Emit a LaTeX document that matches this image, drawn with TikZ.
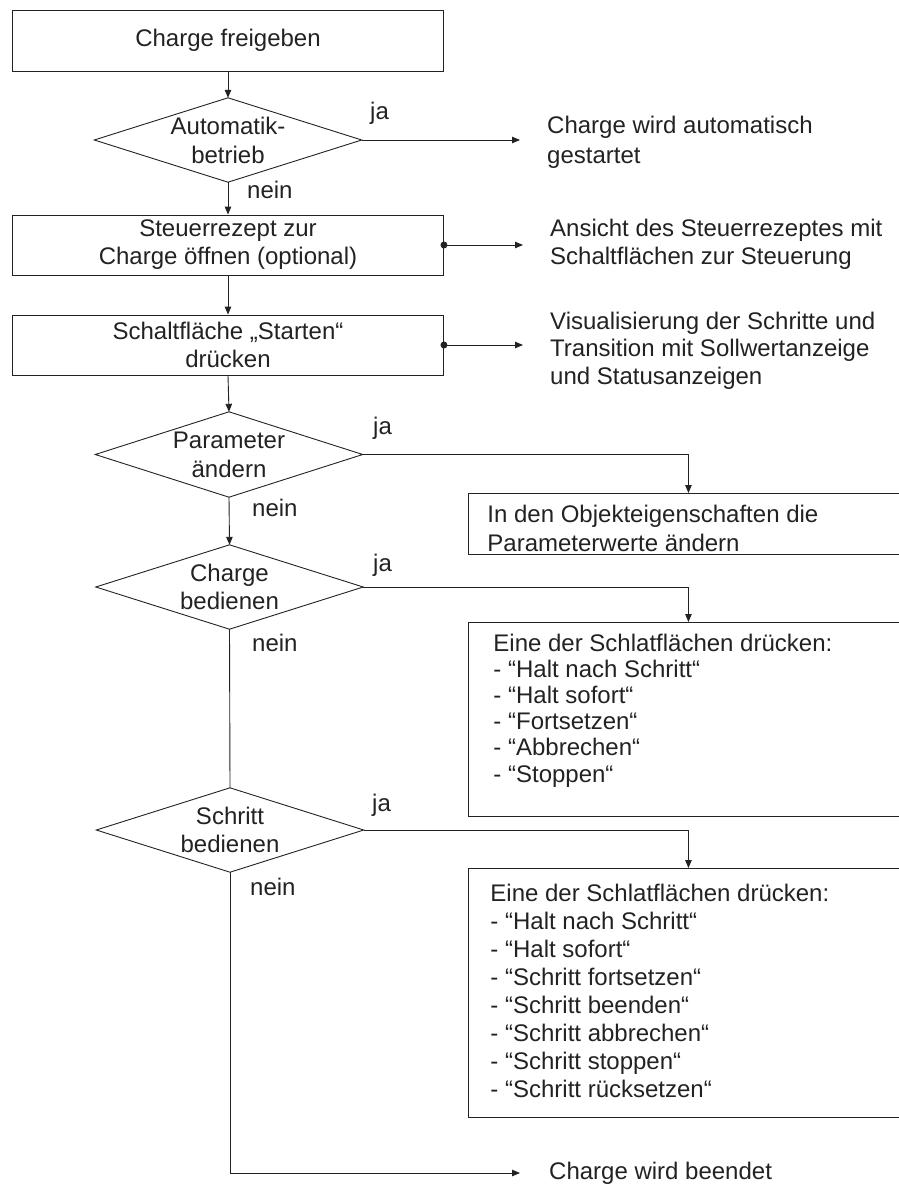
\documentclass[tikz,border=0pt]{standalone}
\usepackage{fontspec}
\setmainfont{Liberation Sans}
\usetikzlibrary{arrows.meta}
\definecolor{ink}{HTML}{222222}
\newcommand\flowfont[1]{\fontsize{24}{#1}\selectfont}
\begin{document}
\begin{tikzpicture}[x=1pt,y=-1pt,
  every node/.style={text=ink},
  proc/.style={draw=ink, line width=0.9pt, minimum width=431pt, minimum height=60pt,
    align=center, inner sep=0pt, font=\flowfont{28}},
  decision/.style={minimum width=267pt, minimum height=84pt, inner sep=0pt,
    align=center, font=\flowfont{29}},
  note/.style={anchor=west, align=left, inner xsep=27pt, inner ysep=0pt},
  listbox/.style={draw=ink, line width=0.9pt, anchor=north west, minimum width=440pt,
    inner ysep=0pt, align=left},
  yn/.style={anchor=west, inner sep=0pt, font=\flowfont{28}},
  flow/.style={draw=ink, line width=0.9pt, -{Triangle[length=8pt,width=6.5pt]}},
  wire/.style={draw=ink, line width=0.9pt},
  dot/.style={fill=ink}]
\useasboundingbox (0,0) rectangle (898,1185);

% main column
\node[proc, minimum height=61pt] (b1) at (228,40.5) {Charge freigeben};
\node[decision] (d1) at (228,140) {Automatik-\\betrieb};
\node[proc] (b2) at (228,245) {Steuerrezept zur\\Charge öffnen (optional)};
\node[proc] (b3) at (228,345) {Schaltfläche „Starten“\\drücken};
\node[decision, minimum height=85pt] (d2) at (229,454.5) {Parameter\\ändern};
\node[decision, font=\flowfont{28}] (d3) at (229.5,587) {Charge\\bedienen};
\node[decision, font=\flowfont{28}] (d4) at (230,830) {Schritt\\bedienen};

% diamond outlines
\foreach \d in {d1,d2,d3,d4}
  \draw[wire] (\d.north) -- (\d.east) -- (\d.south) -- (\d.west) -- cycle;

% branch labels
\node[yn] (ja1) at (370,113) {ja};
\node[yn] (nein1) at (247,190) {nein};
\node[yn] (ja2) at (373,428) {ja};
\node[yn] (nein2) at (252,508) {nein};
\node[yn] (ja3) at (373,565) {ja};
\node[yn] (nein3) at (252,643) {nein};
\node[yn] (ja4) at (372,805) {ja};
\node[yn] (nein4) at (250,887) {nein};

% result texts on the right
\node[note, font=\flowfont{30}] (t1) at (520,142) {Charge wird automatisch\\gestartet};
\node[note, font=\flowfont{28}] (t2) at (523,244) {Ansicht des Steuerrezeptes mit\\Schaltflächen zur Steuerung};
\node[note, font=\flowfont{27.5}] (t3) at (523,350.5) {Visualisierung der Schritte und\\Transition mit Sollwertanzeige\\und Statusanzeigen};
\node[note, inner xsep=29pt, font=\flowfont{28}] (tend) at (520,1173) {Charge wird beendet};

% action boxes
\node[listbox, inner xsep=19pt, font=\flowfont{29}] (pb) at (468,493)
  {\parbox[c][61pt][t]{402pt}{\rule{0pt}{28.6pt}In den Objekteigenschaften die\\Parameterwerte ändern}};
\node[listbox, inner xsep=25pt, font=\flowfont{26.2}] (lb1) at (468,622)
  {\parbox[c][194pt][t]{390pt}{\rule{0pt}{28.6pt}Eine der Schlatflächen drücken:\\
   - “Halt nach Schritt“\\- “Halt sofort“\\- “Fortsetzen“\\- “Abbrechen“\\- “Stoppen“}};
\node[listbox, inner xsep=22pt, font=\flowfont{28.1}] (lb2) at (468,868)
  {\parbox[c][249pt][t]{396pt}{\rule{0pt}{32.6pt}Eine der Schlatflächen drücken:\\
   - “Halt nach Schritt“\\- “Halt sofort“\\- “Schritt fortsetzen“\\- “Schritt beenden“\\
   - “Schritt abbrechen“\\- “Schritt stoppen“\\- “Schritt rücksetzen“}};

% main flow
\draw[flow] (b1.south) -- (d1.north);
\draw[flow] (d1.south) -- (b2.north);
\draw[flow] (b2.south) -- (b3.north);
\draw[flow] (b3.south) -- (d2.north);
\draw[flow] (d2.south) -- (d3.north);
\draw[wire] (d3.south) -- (d4.north);
\draw[flow] (d4.south) |- (tend.west);

% yes branches
\draw[flow] (d1.east) -- (d1.east -| t1.west);
\draw[flow] (d2.east) -| (pb.north);
\draw[flow] (d3.east) -| (lb1.north);
\draw[flow] (d4.east) -| (lb2.north);

% outputs of the process boxes
\fill[dot] (b2.east) circle (3.5pt);
\fill[dot] (b3.east) circle (3.5pt);
\draw[flow] (b2.east) -- (b2.east -| t2.west);
\draw[flow] (b3.east) -- (b3.east -| t3.west);
\end{tikzpicture}
\end{document}
